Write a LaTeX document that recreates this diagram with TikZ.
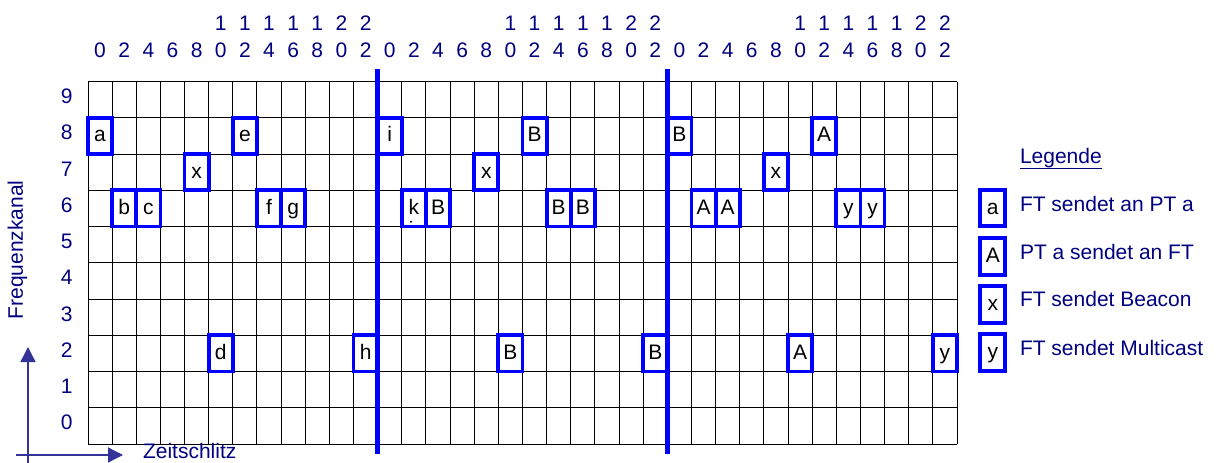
\documentclass[tikz,border=0pt]{standalone}
\usepackage{fontspec}
\setmainfont{Liberation Sans}
\usetikzlibrary{arrows.meta}
\definecolor{labnavy}{RGB}{0,0,128}
\definecolor{axiscol}{RGB}{51,51,153}
\begin{document}
\begin{tikzpicture}[x=1pt,y=-1pt,
 every node/.style={inner sep=0pt, outer sep=0pt, font=\fontsize{21}{25}\selectfont},
 lbl/.style={text=labnavy},
 cellbox/.style={draw=blue, line width=3.8pt, minimum width=24.14pt, minimum height=36.25pt, text height=13pt, text depth=1pt, text=black},
 legbox/.style={cellbox, minimum width=25pt, minimum height=36.5pt, line width=4pt},
 gridline/.style={black, line width=1pt},
 framesep/.style={blue, line width=5pt},
 axisarrow/.style={axiscol, line width=1.3pt, -{Triangle[length=15pt,width=15pt]}}
]
\useasboundingbox (0,0) rectangle (1216,463);
% grid
\foreach \i in {0,...,36} \draw[gridline] ({88+\i*24.139},81.5) -- ({88+\i*24.139},444);
\foreach \j in {0,...,10} \draw[gridline] (88,{81.5+\j*36.25}) -- (957,{81.5+\j*36.25});
% column labels
\foreach \c in {0,...,35}{
  \pgfmathtruncatemacro\vv{2*mod(\c,12)}
  \pgfmathtruncatemacro\un{mod(\vv,10)}
  \node[lbl, anchor=base] (cu\c) at ({88+(\c+0.5)*24.139},57.3) {\un};
  \ifnum\vv>9
    \pgfmathtruncatemacro\tn{\vv/10}
    \node[lbl, anchor=base] (ct\c) at ({88+(\c+0.5)*24.139},30.7) {\tn};
  \fi
}
% row labels
\foreach \r in {0,...,9} \node[lbl, anchor=base] (rl\r) at (66.7,{81.5+(9.5-\r)*36.25+4}) {\r};
% slot boxes
\foreach \c/\r/\txt/\n in {0/8/a/s1, 1/6/b/s2, 2/6/c/s3, 4/7/x/s4, 5/2/d/s5, 6/8/e/s6, 7/6/f/s7, 8/6/g/s8, 11/2/h/s9,
  12/8/i/s10, 13/6/k/s11, 14/6/B/s12, 16/7/x/s13, 17/2/B/s14, 18/8/B/s15, 19/6/B/s16, 20/6/B/s17, 23/2/B/s18,
  24/8/B/s19, 25/6/A/s20, 26/6/A/s21, 28/7/x/s22, 29/2/A/s23, 30/8/A/s24, 31/6/y/s25, 32/6/y/s26, 35/2/y/s27}
  \node[cellbox] (\n) at ({88+(\c+0.5)*24.139},{81.5+(9.5-\r)*36.25}) {\txt};
\fill[black] (411,221.7) circle (1.1pt);
% frame separators
\coordinate (f1t) at (377.7,69); \coordinate (f1b) at (377.7,454);
\coordinate (f2t) at (667.3,69); \coordinate (f2b) at (667.3,454);
\draw[framesep] (f1t) -- (f1b);
\draw[framesep] (f2t) -- (f2b);
% axes
\coordinate (va) at (28,463); \coordinate (vb) at (28,347);
\coordinate (ha) at (16,455); \coordinate (hb) at (123,455);
\draw[axisarrow] (va) -- (vb);
\draw[axisarrow] (ha) -- (hb);
\node[lbl, rotate=90] (freq) at (17.5,250) {Frequenzkanal};
\node[lbl, anchor=base west] (zeit) at (143,458) {Zeitschlitz};
% legend
\node[lbl, anchor=base west] (leg) at (1020,163.3) {Legende};
\draw[labnavy, line width=1.3pt] ([yshift=-5pt]leg.base west) -- ([yshift=-5pt]leg.base east);
\node[legbox] (la) at (992.8,208) {a};
\node[legbox] (lA) at (992.8,256.3) {A};
\node[legbox] (lx) at (992.8,304.3) {x};
\node[legbox] (ly) at (992.8,352.3) {y};
\node[lbl, anchor=base west] (ta) at (1020,211.7) {FT sendet an PT a};
\node[lbl, anchor=base west] (tA) at (1020,259.3) {PT a sendet an FT};
\node[lbl, anchor=base west] (tx) at (1020,306.7) {FT sendet Beacon};
\node[lbl, anchor=base west] (ty) at (1020,355) {FT sendet Multicast};
\end{tikzpicture}
\end{document}
